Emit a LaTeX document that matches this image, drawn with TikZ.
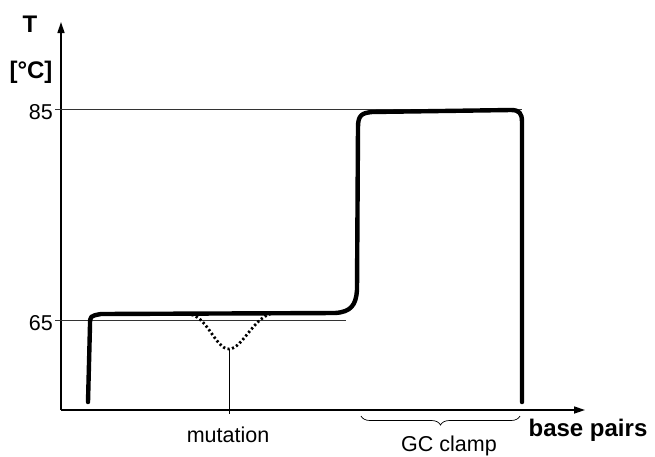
\documentclass[tikz,border=0pt]{standalone}
\usepackage{fontspec}
\setmainfont{Liberation Sans}
\usetikzlibrary{arrows.meta,decorations.pathreplacing}
\begin{document}
\begin{tikzpicture}[x=1pt,y=-1pt,
  axis/.style={line width=1.6pt,-{Triangle[length=11pt,width=7pt]}},
  guide/.style={line width=0.8pt,black!80},
  melt/.style={line width=4.4pt,line cap=round,line join=round},
  dip/.style={line width=2.8pt,dash pattern=on 2.2pt off 2.4pt},
  lbl/.style={font=\fontsize{21.5}{21.5}\selectfont,inner sep=0pt},
  bold/.style={font=\fontsize{24}{24}\selectfont\bfseries,inner sep=0pt}]
\useasboundingbox (0,0) rectangle (655,456);

% axes
\coordinate (origin) at (61,410);
\coordinate (ytip) at (61,22);
\coordinate (xtip) at (585,410);
\draw[axis] (origin) -- (ytip);
\draw[axis] (origin) -- (xtip);

% axis labels
\node[bold] (tlabel) at (30,24) {T};
\node[bold] (unit) at (31,72) {[°C]};
\node[bold] (xlabel) at (588,430) {base pairs};

% temperature levels
\node[lbl,anchor=east] (t85) at (53,112) {85};
\node[lbl,anchor=east] (t65) at (53,323) {65};
\coordinate (g85a) at (55,109);
\coordinate (g85b) at (522,109);
\coordinate (g65a) at (55,320);
\coordinate (g65b) at (346,320);
\draw[guide] (g85a) -- (g85b);
\draw[guide] (g65a) -- (g65b);

% melting profile
\coordinate (p0) at (88,402);
\coordinate (p1) at (90,325);
\coordinate (p2) at (101,314);
\coordinate (p3) at (335,313);
\coordinate (p4) at (357,290);
\coordinate (p5) at (358,127);
\coordinate (p6) at (372,112);
\coordinate (p7) at (511,110);
\coordinate (p8) at (522,122);
\coordinate (p9) at (522,402);
\draw[melt] (p0) -- (p1) .. controls (90,316) .. (p2) -- (p3)
  .. controls (351,312) and (356,305) .. (p4) -- (p5)
  .. controls (358,115) and (362,113) .. (p6) -- (p7)
  .. controls (519,110) and (522,113) .. (p8) -- (p9);

% lowered melting of the mutated domain
\coordinate (d0) at (187,314);
\coordinate (dmin) at (229,349);
\coordinate (d1) at (276,313);
\draw[dip] (d0) .. controls (207,314) and (215,349) .. (dmin)
  .. controls (243,349) and (255,313) .. (d1);
\coordinate (mfoot) at (229,414);
\draw[line width=0.8pt] (dmin) -- (mfoot);
\node[lbl] (mutation) at (228,435) {mutation};

% GC clamp brace
\coordinate (b0) at (361,416);
\coordinate (b1) at (520,416);
\draw[line width=0.7pt,decorate,decoration={brace,mirror,amplitude=9pt}] (b0) -- (b1);
\node[lbl] (gc) at (449,446) {GC clamp};
\end{tikzpicture}
\end{document}
